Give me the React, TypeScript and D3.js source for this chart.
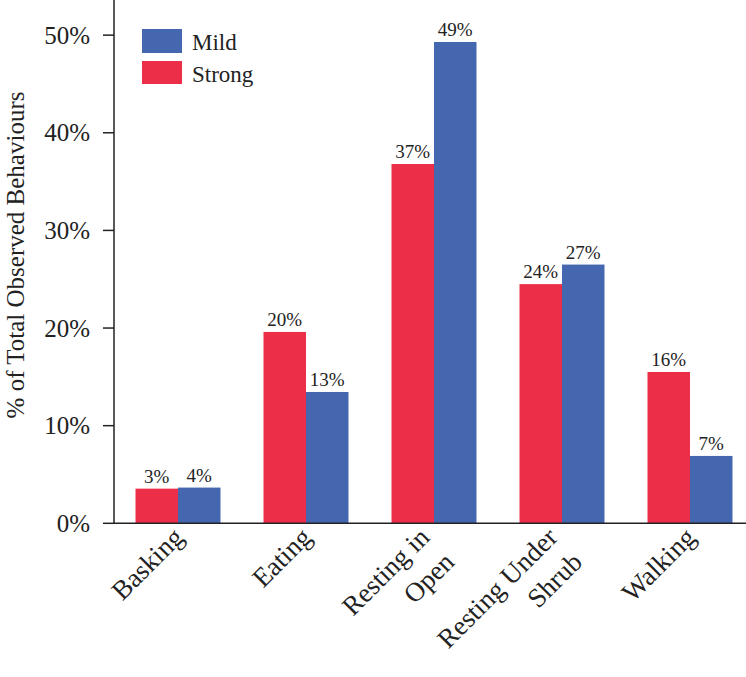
import React from 'react';
import * as d3 from 'd3';

const CATEGORIES = ['Basking', 'Eating', 'Resting in\nOpen', 'Resting Under\nShrub', 'Walking'];
const STRONG = [3.55, 19.6, 36.8, 24.5, 15.5];
const MILD = [3.66, 13.45, 49.3, 26.5, 6.9];
const STRONG_LABELS = ['3%', '20%', '37%', '24%', '16%'];
const MILD_LABELS = ['4%', '13%', '49%', '27%', '7%'];
const Y_TICKS = [0, 10, 20, 30, 40, 50];

const W = 746;
const H = 677;
const RED = '#ED2E48';
const BLUE = '#4467B0';
const AXIS = '#222';
const FONT = '"Liberation Serif", "DejaVu Serif", serif';

export default function App() {
  const x0 = 114;
  const y0 = 523.3;

  const xScale = d3.scaleBand<string>()
    .domain(CATEGORIES)
    .range([x0, x0 + 5 * 128])
    .paddingInner(0.336)
    .paddingOuter(0.168);
  const yScale = d3.scaleLinear().domain([0, 53.6]).range([y0, 0]);
  const bw = xScale.bandwidth() / 2;

  return (
    <svg width={W} height={H} style={{ position: 'absolute', left: 0, top: 0, background: '#fff' }} fontFamily={FONT}>
      {/* bars */}
      {CATEGORIES.map((c, i) => {
        const bx = xScale(c)!;
        return (
          <g key={c}>
            <rect x={bx} y={yScale(STRONG[i])} width={bw} height={y0 - yScale(STRONG[i])} fill={RED} />
            <rect x={bx + bw} y={yScale(MILD[i])} width={bw} height={y0 - yScale(MILD[i])} fill={BLUE} />
            <text x={bx + bw / 2} y={yScale(STRONG[i]) - 6} textAnchor="middle" fontSize={19} fill="#222">
              {STRONG_LABELS[i]}
            </text>
            <text x={bx + bw * 1.5} y={yScale(MILD[i]) - 6} textAnchor="middle" fontSize={19} fill="#222">
              {MILD_LABELS[i]}
            </text>
          </g>
        );
      })}

      {/* y axis */}
      <line x1={x0} x2={x0} y1={0} y2={y0} stroke={AXIS} strokeWidth={1.5} />
      {Y_TICKS.map((t) => (
        <g key={t}>
          <line x1={x0 - 11} x2={x0} y1={yScale(t)} y2={yScale(t)} stroke={AXIS} strokeWidth={1.5} />
          <text x={x0 - 24} y={yScale(t)} dy="0.34em" textAnchor="end" fontSize={25} fill="#222">
            {t + '%'}
          </text>
        </g>
      ))}
      <text
        transform={`translate(24,255) rotate(-90)`}
        textAnchor="middle"
        fontSize={25}
        fill="#222"
      >
        % of Total Observed Behaviours
      </text>

      {/* x axis */}
      <line x1={x0} x2={W} y1={y0} y2={y0} stroke={AXIS} strokeWidth={1.5} />
      {CATEGORIES.map((c) => {
        const lines = c.split('\n');
        const cx = xScale(c)! + xScale.bandwidth() / 2;
        const ofs = lines.length > 1 ? -3 : 7;
        return (
          <text
            key={c}
            transform={`translate(${cx + ofs},539) rotate(-45)`}
            textAnchor="end"
            fontSize={27}
            fill="#222"
          >
            {lines.map((l, j) => (
              <tspan key={j} x={0} y={j * 35}>{l}</tspan>
            ))}
          </text>
        );
      })}

      {/* legend */}
      <rect x={142} y={29} width={40} height={24} fill={BLUE} />
      <text x={192} y={50} fontSize={23} fill="#222">Mild</text>
      <rect x={142} y={61} width={40} height={23} fill={RED} />
      <text x={192} y={82} fontSize={23} fill="#222">Strong</text>
    </svg>
  );
}
